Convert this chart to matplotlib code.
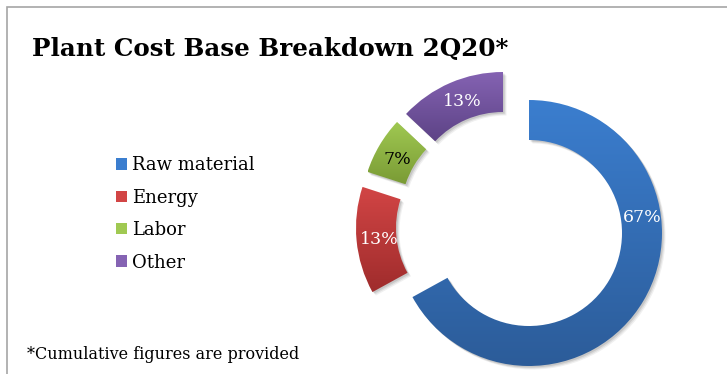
import numpy as np
import matplotlib.pyplot as plt
from matplotlib.patches import Patch, Rectangle, PathPatch
from matplotlib.colors import LinearSegmentedColormap
from matplotlib.transforms import Affine2D

# cost shares, 2Q20
categories = ["Raw material", "Energy", "Labor", "Other"]
shares = [67, 13, 7, 13]

# top / bottom colour of each slice's vertical gradient
grad_top = ["#3b7ecf", "#d24545", "#a0c952", "#8563b3"]
grad_bot = ["#2c5c99", "#9f2c2c", "#7a9b35", "#5d4386"]
# pulled-out slices: offset of each piece (px)
shift = [(0, 0), (-40, 5), (-35, 20), (-26, 28)]
label_colors = ["white", "white", "black", "white"]
label_pos = [(642, 157), (379, 135), (397, 215), (462, 273)]

W, H = 727, 374
fig = plt.figure(figsize=(W / 100, H / 100), dpi=100)
ax = fig.add_axes([0, 0, 1, 1])

cx, cy, R, ring = 529, 141, 133, 40

wedges, _ = ax.pie(shares, center=(cx, cy), radius=R, startangle=90,
                   counterclock=False,
                   wedgeprops=dict(width=ring, linewidth=0))

for w, (dx, dy), top, bot in zip(wedges, shift, grad_top, grad_bot):
    w.set_center((cx + dx, cy + dy))
    path = w.get_path()
    ext = path.get_extents()
    # soft drop shadow
    for k, a in [(3.5, 0.06), (2.5, 0.08), (1.5, 0.10)]:
        ax.add_patch(PathPatch(path, fc="black", ec="none", alpha=a, zorder=1,
                               transform=Affine2D().translate(k, -k) + ax.transData))
    w.set_facecolor("none")
    w.set_zorder(2)
    cmap = LinearSegmentedColormap.from_list("g", [bot, top])
    grad = np.linspace(0, 1, 256).reshape(-1, 1)
    im = ax.imshow(grad, cmap=cmap, origin="lower", aspect="auto",
                   extent=(ext.x0, ext.x1, ext.y0, ext.y1), zorder=2,
                   interpolation="bilinear")
    im.set_clip_path(w)

for (x, y), s, c in zip(label_pos, shares, label_colors):
    ax.text(x, y, f"{s}%", color=c, fontsize=12.5, family="DejaVu Serif",
            ha="center", va="center", zorder=5)

ax.set_xlim(0, W)
ax.set_ylim(0, H)
ax.set_aspect("auto")
ax.axis("off")

# chart frame (runs off the right / bottom edge)
ax.add_patch(Rectangle((7, -20), W + 20, H - 7 + 20, fill=False,
                       ec="#a6a6a6", lw=1.2, zorder=0))

ax.text(32, 318, "Plant Cost Base Breakdown 2Q20*", fontsize=17.7,
        fontweight="bold", family="DejaVu Serif", va="baseline")
ax.text(27, 15, "*Cumulative figures are provided", fontsize=11.5,
        family="DejaVu Serif", va="baseline")

handles = [Patch(facecolor=c, edgecolor="none") for c in grad_top]
leg = ax.legend(handles, categories, loc="upper left",
                bbox_to_anchor=(109 / W, 1 - 149 / H), frameon=False,
                prop=dict(family="DejaVu Serif", size=13),
                handlelength=0.6, handleheight=0.6, handletextpad=0.3,
                labelspacing=0.8, borderaxespad=0)

fig.savefig("out.png", dpi=100, facecolor="white")
